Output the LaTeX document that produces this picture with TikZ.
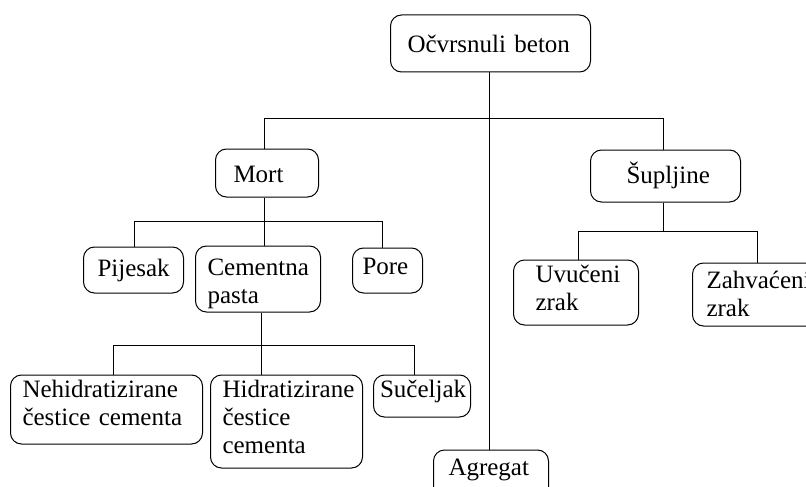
\documentclass[tikz,border=0pt]{standalone}
\usepackage{fontspec}
\setmainfont{Liberation Serif}
\hyphenpenalty=10000
\exhyphenpenalty=10000
\hbadness=10000
\hfuzz=20pt
\tikzset{
  box/.style={draw, line width=1pt, rounded corners=11pt, anchor=base west,
    align=left, inner ysep=0pt, font=\fontsize{25}{28}\selectfont},
  conn/.style={line width=1pt},
}
\begin{document}
\begin{tikzpicture}[x=1pt,y=-1pt]
\useasboundingbox (0,0) rectangle (806,487);
\fill[white] (0,0) rectangle (806,487);
\clip (0,0) rectangle (806,487);

% boxes
\node[box, inner xsep=17pt, text width=166pt, text height=38pt, text depth=19pt] (top) at (390,53) {Očvrsnuli beton};
\node[box, inner xsep=18pt, text width=67pt, text height=33pt, text depth=15pt] (mort) at (215,182) {Mort};
\node[box, inner xsep=36pt, text width=78pt, text height=33pt, text depth=19pt] (sup) at (590,183) {Šupljine};
\node[box, inner xsep=14pt, text width=72pt, text height=29pt, text depth=17pt] (pij) at (83,276) {Pijesak};
\node[box, inner xsep=12pt, text width=101pt, text height=29pt, text depth=37pt] (cem) at (195,275) {Cementna\\pasta};
\node[box, inner xsep=10pt, text width=50pt, text height=26pt, text depth=19pt] (pore) at (352,274) {Pore};
\node[box, inner xsep=12pt, text width=168pt, text height=22pt, text depth=47pt] (nehid) at (10,397) {Nehidratizirane\\čestice cementa};
\node[box, inner xsep=12pt, text width=128pt, text height=22pt, text depth=71pt] (hid) at (210,397) {Hidratizirane\\čestice\\cementa};
\node[box, inner xsep=6.5pt, text width=84pt, text height=22pt, text depth=20pt] (suc) at (373,397) {Sučeljak};
\node[box, inner xsep=15pt, text width=85pt, text height=25pt, text depth=30pt] (agg) at (433,475) {Agregat};
\node[box, inner xsep=22pt, text width=81pt, text height=22pt, text depth=43pt] (uvu) at (513,282) {Uvučeni\\zrak};
\node[box, inner xsep=14pt, text width=112pt, text height=25pt, text depth=38pt] (zah) at (692,288) {Zahvaćeni\\zrak};

% junction coordinates
\coordinate (b1L) at (264,118);
\coordinate (b1R) at (663,118);
\coordinate (t1) at (489,118);
\coordinate (m1L) at (134,221);
\coordinate (m1R) at (382,221);
\coordinate (c1L) at (113,345);
\coordinate (c1M) at (261,345);
\coordinate (c1R) at (414,345);
\coordinate (s1L) at (578,231);
\coordinate (s1R) at (757,231);

% connectors
\draw[conn] (b1L) -- (b1R);
\draw[conn] (t1 |- top.south) -- (t1 |- agg.north);
\draw[conn] (b1L) -- (b1L |- mort.north);
\draw[conn] (b1R) -- (b1R |- sup.north);

\draw[conn] (b1L |- mort.south) -- (b1L |- cem.north);
\draw[conn] (m1L) -- (m1R);
\draw[conn] (m1L) -- (m1L |- pij.north);
\draw[conn] (m1R) -- (m1R |- pore.north);

\draw[conn] (c1M |- cem.south) -- (c1M |- hid.north);
\draw[conn] (c1L) -- (c1R);
\draw[conn] (c1L) -- (c1L |- nehid.north);
\draw[conn] (c1R) -- (c1R |- suc.north);

\draw[conn] (b1R |- sup.south) -- (b1R |- s1L);
\draw[conn] (s1L) -- (s1R);
\draw[conn] (s1L) -- (s1L |- uvu.north);
\draw[conn] (s1R) -- (s1R |- zah.north);
\end{tikzpicture}
\end{document}
